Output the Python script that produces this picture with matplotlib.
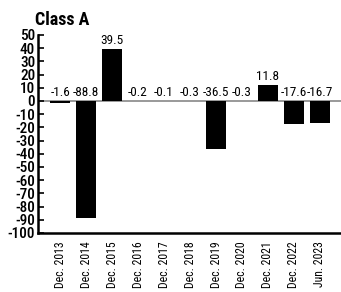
import matplotlib
matplotlib.use("Agg")
import matplotlib.pyplot as plt
import numpy as np

plt.rcParams['font.family'] = ['Roboto Condensed', 'Archivo Narrow', 'DejaVu Sans']

categories = ["Dec. 2013", "Dec. 2014", "Dec. 2015", "Dec. 2016", "Dec. 2017",
              "Dec. 2018", "Dec. 2019", "Dec. 2020", "Dec. 2021", "Dec. 2022",
              "Jun. 2023"]
values = [-1.6, -88.8, 39.5, -0.2, -0.1, -0.3, -36.5, -0.3, 11.8, -17.6, -16.7]
yticks = list(range(-100, 51, 10))

fig = plt.figure(figsize=(3.41, 2.92), dpi=100)
ax = fig.add_axes([38/341, 1 - 233/292, 303/341, 198/292])

x = np.arange(len(categories))
ax.bar(x, values, width=0.8, color="black", zorder=2)
ax.axhline(0, color="#888888", lw=1.2, zorder=1)

for xi, v in zip(x, values):
    y = max(v, 0) + 1.5
    ax.text(xi, y, f"{v:.1f}", ha="center", va="bottom", fontsize=9.5)

ax.set_xlim(-0.85, 10.81)
ax.set_ylim(-100, 50)
ax.set_yticks(yticks)
ax.set_yticklabels([str(t) for t in yticks], fontsize=11, fontweight="medium")
ax.tick_params(axis="y", direction="in", length=4, width=1.2, pad=2)
ax.set_xticks(x)
ax.set_xticklabels(categories, rotation=90, fontsize=8.5)
ax.tick_params(axis="x", length=0, pad=6)

for s in ["top", "right"]:
    ax.spines[s].set_visible(False)
for s in ["left", "bottom"]:
    ax.spines[s].set_linewidth(1.8)

fig.text(35/341, 1 - 20/292, "Class A", fontsize=13, fontweight="bold",
         ha="left", va="center")

fig.savefig("out.png", dpi=100)
